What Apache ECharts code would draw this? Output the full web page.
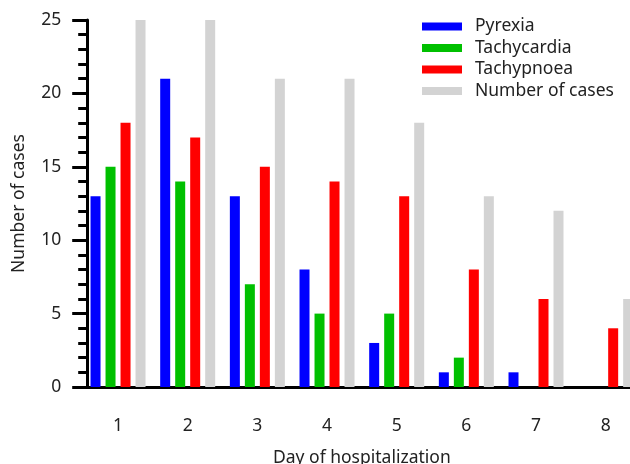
<!DOCTYPE html>
<html>
<head>
<meta charset="utf-8">
<script src="https://cdn.jsdelivr.net/npm/echarts@6/dist/echarts.min.js"></script>
<style>
html,body{margin:0;padding:0;background:#fff;}
#chart{width:630px;height:464px;}
</style>
</head>
<body>
<div id="chart"></div>
<script>
var days = ['1','2','3','4','5','6','7','8'];
var pyrexia = [13, 21, 13, 8, 3, 1, 1, 0];
var tachycardia = [15, 14, 7, 5, 5, 2, 0, 0];
var tachypnoea = [18, 17, 15, 14, 13, 8, 6, 4];
var numberOfCases = [25, 25, 21, 21, 18, 13, 12, 6];

var FONT = 'Noto Sans';
var FS = 17.5;
var TXT = '#222';
var chart = echarts.init(document.getElementById('chart'), null, {renderer: 'canvas'});

function bar(name, data, color) {
  return {
    name: name, type: 'bar', data: data,
    barWidth: 10, barGap: '50%',
    itemStyle: {color: color},
    animation: false
  };
}

chart.setOption({
  animation: false,
  textStyle: {fontFamily: FONT},
  grid: {left: 83.2, right: -10.5, top: 20, bottom: 77, containLabel: false, outerBoundsMode: 'none'},
  legend: {
    orient: 'vertical', left: 417, top: 12.5,
    itemWidth: 40, itemHeight: 8, itemGap: 3.5,
    icon: 'rect',
    textStyle: {fontFamily: FONT, fontSize: FS, color: TXT, padding: [0, 0, 0, 8]},
    data: ['Pyrexia', 'Tachycardia', 'Tachypnoea', 'Number of cases']
  },
  xAxis: {
    type: 'category', data: days,
    boundaryGap: true,
    name: 'Day of hospitalization',
    nameLocation: 'middle', nameGap: 62,
    nameTextStyle: {fontFamily: FONT, fontSize: FS, color: TXT},
    axisLine: {lineStyle: {color: '#000', width: 3}},
    axisTick: {alignWithLabel: true, length: 15, lineStyle: {color: '#000', width: 3}},
    axisLabel: {fontFamily: FONT, fontSize: FS, color: TXT, margin: 30}
  },
  yAxis: {
    type: 'value', min: 0, max: 25, interval: 5,
    offset: -4,
    name: 'Number of cases',
    nameLocation: 'middle', nameGap: 59,
    nameTextStyle: {fontFamily: FONT, fontSize: FS, color: TXT},
    axisLine: {show: true, lineStyle: {color: '#000', width: 3}},
    axisTick: {show: true, length: 15, lineStyle: {color: '#000', width: 3}},
    minorTick: {show: true, splitNumber: 5, length: 9, lineStyle: {color: '#000', width: 3}},
    splitLine: {show: false},
    axisLabel: {fontFamily: FONT, fontSize: FS, color: TXT, margin: 26}
  },
  series: [
    bar('Pyrexia', pyrexia, '#0000ff'),
    bar('Tachycardia', tachycardia, '#00c000'),
    bar('Tachypnoea', tachypnoea, '#ff0000'),
    bar('Number of cases', numberOfCases, '#d3d3d3')
  ]
});
</script>
</body>
</html>
